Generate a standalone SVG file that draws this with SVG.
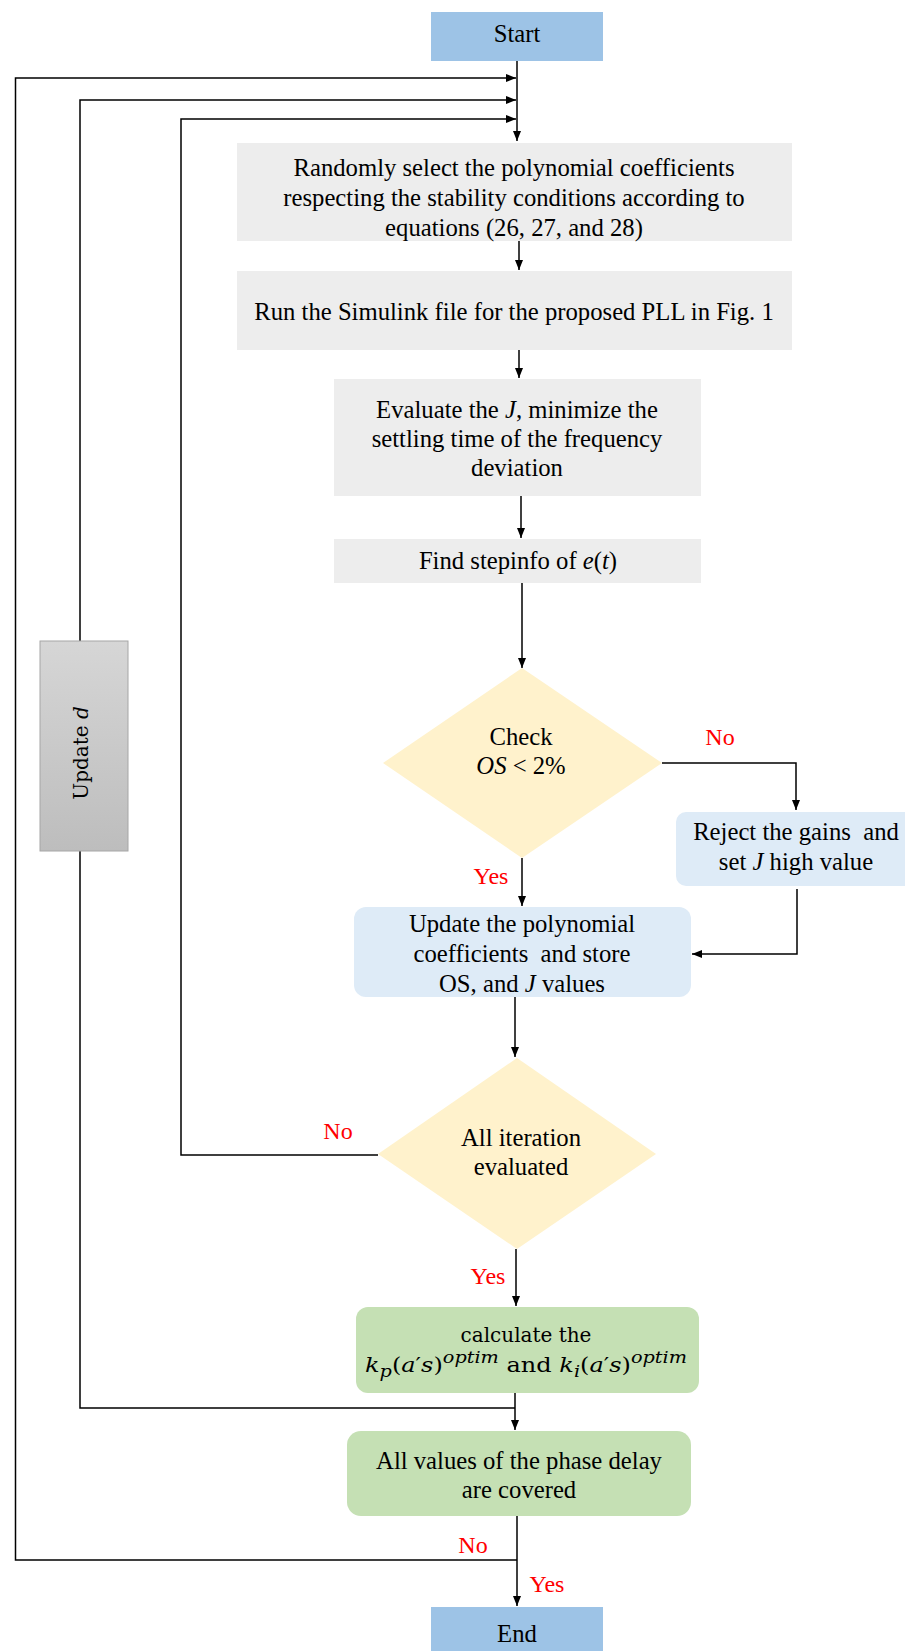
<svg xmlns="http://www.w3.org/2000/svg" width="905" height="1651" viewBox="0 0 905 1651">
<style>
.t{font-family:"Liberation Serif","Times New Roman",serif;font-size:24.7px;fill:#000;text-anchor:middle}
.m{font-family:"DejaVu Serif","Liberation Serif",serif;font-size:20px;fill:#000;text-anchor:middle}
.i{font-style:italic}
.lbl{font-family:"Liberation Serif","Times New Roman",serif;font-size:24px;fill:#FF0000;text-anchor:middle}
.c{fill:none;stroke:#000;stroke-width:1.5}
.gray{fill:#EDEDED}
.blue{fill:#DEEBF7}
.dia{fill:#FFF2CC}
.green{fill:#C5E0B4}
.term{fill:#9DC3E6}
</style>
<defs>
<marker id="ah" markerWidth="10" markerHeight="8" refX="10" refY="4" orient="auto" markerUnits="userSpaceOnUse">
<path d="M0,0 L10,4 L0,8 Z" fill="#000"/>
</marker>
<linearGradient id="gd" x1="0" y1="0" x2="0" y2="1">
<stop offset="0" stop-color="#D6D6D6"/>
<stop offset="1" stop-color="#BDBDBD"/>
</linearGradient>
</defs>
<rect width="905" height="1651" fill="#fff"/>

<g id="connectors">
<path class="c" d="M517,61 V141" marker-end="url(#ah)"/>
<path class="c" d="M517,1560 H15.5 V78 H516" marker-end="url(#ah)"/>
<path class="c" d="M80,641 V100 H516" marker-end="url(#ah)"/>
<path class="c" d="M515,1408 H80 V851"/>
<path class="c" d="M378,1155 H181 V119 H516" marker-end="url(#ah)"/>
<path class="c" d="M519,241 V270" marker-end="url(#ah)"/>
<path class="c" d="M519,350 V378" marker-end="url(#ah)"/>
<path class="c" d="M521,496 V538" marker-end="url(#ah)"/>
<path class="c" d="M522,583 V668" marker-end="url(#ah)"/>
<path class="c" d="M662,763 H796 V810" marker-end="url(#ah)"/>
<path class="c" d="M797,889 V954 H692" marker-end="url(#ah)"/>
<path class="c" d="M522,858 V906" marker-end="url(#ah)"/>
<path class="c" d="M515,997 V1057" marker-end="url(#ah)"/>
<path class="c" d="M516,1249 V1306" marker-end="url(#ah)"/>
<path class="c" d="M515,1393 V1430" marker-end="url(#ah)"/>
<path class="c" d="M517,1516 V1606" marker-end="url(#ah)"/>
</g>

<g id="start">
<rect class="term" x="431" y="12" width="172" height="49"/>
<text class="t" x="517" y="42">Start</text>
</g>

<g id="select">
<rect class="gray" x="237" y="143" width="555" height="98"/>
<text class="t" x="514" y="176">Randomly select the polynomial coefficients</text>
<text class="t" x="514" y="206">respecting the stability conditions according to</text>
<text class="t" x="514" y="236">equations (26, 27, and 28)</text>
</g>

<g id="run">
<rect class="gray" x="237" y="271" width="555" height="79"/>
<text class="t" x="514" y="320">Run the Simulink file for the proposed PLL in Fig. 1</text>
</g>

<g id="evaluate">
<rect class="gray" x="334" y="379" width="367" height="117"/>
<text class="t" x="517" y="418">Evaluate the <tspan class="i">J</tspan>, minimize the</text>
<text class="t" x="517" y="447">settling time of the frequency</text>
<text class="t" x="517" y="476">deviation</text>
</g>

<g id="stepinfo">
<rect class="gray" x="334" y="539" width="367" height="44"/>
<text class="t" x="518" y="569">Find stepinfo of <tspan class="i">e</tspan>(<tspan class="i">t</tspan>)</text>
</g>

<g id="check">
<polygon class="dia" points="522,668 662,763 522,858 383,763"/>
<text class="t" x="521" y="745">Check</text>
<text class="t" x="521" y="774"><tspan class="i">OS</tspan> &lt; 2%</text>
</g>

<g id="reject">
<rect class="blue" x="676" y="812" width="245" height="74" rx="10"/>
<text class="t" x="796" y="840" xml:space="preserve">Reject the gains  and</text>
<text class="t" x="796" y="870">set <tspan class="i">J</tspan> high value</text>
</g>

<g id="update">
<rect class="blue" x="354" y="907" width="337" height="90" rx="12"/>
<text class="t" x="522" y="932">Update the polynomial</text>
<text class="t" x="522" y="962" xml:space="preserve">coefficients  and store</text>
<text class="t" x="522" y="992">OS, and <tspan class="i">J</tspan> values</text>
</g>

<g id="iteration">
<polygon class="dia" points="517,1058 656,1154 517,1249 378,1154"/>
<text class="t" x="521" y="1146">All iteration</text>
<text class="t" x="521" y="1175">evaluated</text>
</g>

<g id="calculate">
<rect class="green" x="356" y="1307" width="343" height="86" rx="12"/>
<text class="m" x="526" y="1342">calculate the</text>
<text class="m" x="526" y="1372" font-size="21" textLength="322" lengthAdjust="spacingAndGlyphs"><tspan class="i">k</tspan><tspan class="i" font-size="16" dy="5">p</tspan><tspan dy="-5">(</tspan><tspan class="i">a</tspan>′<tspan class="i">s</tspan>)<tspan class="i" font-size="16" dy="-9">optim</tspan><tspan dy="9"> and </tspan><tspan class="i">k</tspan><tspan class="i" font-size="16" dy="5">i</tspan><tspan dy="-5">(</tspan><tspan class="i">a</tspan>′<tspan class="i">s</tspan>)<tspan class="i" font-size="16" dy="-9">optim</tspan></text>
</g>

<g id="covered">
<rect class="green" x="347" y="1431" width="344" height="85" rx="14"/>
<text class="t" x="519" y="1469">All values of the phase delay</text>
<text class="t" x="519" y="1498">are covered</text>
</g>

<g id="end">
<rect class="term" x="431" y="1607" width="172" height="50"/>
<text class="t" x="517" y="1642">End</text>
</g>

<g id="update-d">
<rect x="40" y="641" width="88" height="210" fill="url(#gd)" stroke="#A6A6A6" stroke-width="1"/>
<text class="m" x="81" y="760" font-size="21" transform="rotate(-90 81 753)">Update <tspan class="i">d</tspan></text>
</g>

<g id="labels">
<text class="lbl" x="720" y="745">No</text>
<text class="lbl" x="491" y="884">Yes</text>
<text class="lbl" x="338" y="1139">No</text>
<text class="lbl" x="488" y="1284">Yes</text>
<text class="lbl" x="473" y="1553">No</text>
<text class="lbl" x="547" y="1592">Yes</text>
</g>
</svg>
